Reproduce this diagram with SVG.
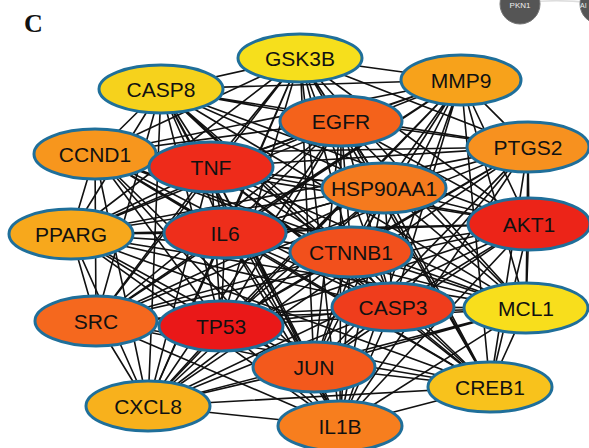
<svg xmlns="http://www.w3.org/2000/svg" width="589" height="448" viewBox="0 0 589 448">
<style>
.n ellipse{stroke:#1f6f9a;stroke-width:3}
.n text{font-family:"Liberation Sans",Arial,sans-serif;font-size:21px;fill:#111;text-anchor:middle}
#edges path{stroke:#111;stroke-width:1.6;fill:none}
</style>
<rect width="589" height="448" fill="#fff"/>
<text x="24" y="32" font-family="Liberation Serif,serif" font-weight="bold" font-size="26" fill="#111">C</text>
<g id="corner">
<path d="M520 3 Q560 -2 600 4" stroke="#ddd" stroke-width="1.5" fill="none"/>
<circle cx="520" cy="4" r="20" fill="#555" stroke="#777" stroke-width="1"/>
<text x="520" y="8" font-family="Liberation Sans,sans-serif" font-size="8" fill="#eee" text-anchor="middle">PKN1</text>
<circle cx="600" cy="4" r="20" fill="#555" stroke="#777" stroke-width="1"/>
<text x="580" y="8" font-family="Liberation Sans,sans-serif" font-size="7" fill="#eee">AI</text>
</g>
<g id="edges">
<path d="M300 58L161 89M300 58L461 80M300 58L341 121M300 58L95 154M300 58L211 167M300 58L528 147M300 58L384 188M300 58L71 234M300 58L225 233M300 58L529 224M300 58L351 252M300 58L96 321M300 58L221 326M300 58L393 307M300 58L526 308M300 58L314 367M300 58L490 387M300 58L148 406M300 58L340 426"/>
<path d="M161 89L461 80M161 89L341 121M161 89L95 154M161 89L211 167M161 89L528 147M161 89L384 188M161 89L71 234M161 89L225 233M161 89L529 224M161 89L351 252M161 89L96 321M161 89L221 326M161 89L393 307M161 89L526 308M161 89L314 367M161 89L490 387M161 89L148 406M161 89L340 426"/>
<path d="M461 80L341 121M461 80L95 154M461 80L211 167M461 80L528 147M461 80L384 188M461 80L71 234M461 80L225 233M461 80L529 224M461 80L351 252M461 80L96 321M461 80L221 326M461 80L393 307M461 80L526 308M461 80L314 367M461 80L490 387M461 80L148 406M461 80L340 426"/>
<path d="M341 121L95 154M341 121L211 167M341 121L528 147M341 121L384 188M341 121L71 234M341 121L225 233M341 121L529 224M341 121L351 252M341 121L96 321M341 121L221 326M341 121L393 307M341 121L526 308M341 121L314 367M341 121L490 387M341 121L148 406M341 121L340 426"/>
<path d="M95 154L211 167M95 154L528 147M95 154L384 188M95 154L71 234M95 154L225 233M95 154L529 224M95 154L351 252M95 154L96 321M95 154L221 326M95 154L393 307M95 154L526 308M95 154L314 367M95 154L490 387M95 154L148 406M95 154L340 426"/>
<path d="M211 167L528 147M211 167L384 188M211 167L71 234M211 167L225 233M211 167L529 224M211 167L351 252M211 167L96 321M211 167L221 326M211 167L393 307M211 167L526 308M211 167L314 367M211 167L490 387M211 167L148 406M211 167L340 426"/>
<path d="M528 147L384 188M528 147L71 234M528 147L225 233M528 147L529 224M528 147L351 252M528 147L96 321M528 147L221 326M528 147L393 307M528 147L526 308M528 147L314 367M528 147L490 387M528 147L148 406M528 147L340 426"/>
<path d="M384 188L71 234M384 188L225 233M384 188L529 224M384 188L351 252M384 188L96 321M384 188L221 326M384 188L393 307M384 188L526 308M384 188L314 367M384 188L490 387M384 188L148 406M384 188L340 426"/>
<path d="M71 234L225 233M71 234L529 224M71 234L351 252M71 234L96 321M71 234L221 326M71 234L393 307M71 234L526 308M71 234L314 367M71 234L490 387M71 234L148 406M71 234L340 426"/>
<path d="M225 233L529 224M225 233L351 252M225 233L96 321M225 233L221 326M225 233L393 307M225 233L526 308M225 233L314 367M225 233L490 387M225 233L148 406M225 233L340 426"/>
<path d="M529 224L351 252M529 224L96 321M529 224L221 326M529 224L393 307M529 224L526 308M529 224L314 367M529 224L490 387M529 224L148 406M529 224L340 426"/>
<path d="M351 252L96 321M351 252L221 326M351 252L393 307M351 252L526 308M351 252L314 367M351 252L490 387M351 252L148 406M351 252L340 426"/>
<path d="M96 321L221 326M96 321L393 307M96 321L526 308M96 321L314 367M96 321L490 387M96 321L148 406M96 321L340 426"/>
<path d="M221 326L393 307M221 326L526 308M221 326L314 367M221 326L490 387M221 326L148 406M221 326L340 426"/>
<path d="M393 307L526 308M393 307L314 367M393 307L490 387M393 307L148 406M393 307L340 426"/>
<path d="M526 308L314 367M526 308L490 387M526 308L148 406M526 308L340 426"/>
<path d="M314 367L490 387M314 367L148 406M314 367L340 426M490 387L148 406M490 387L340 426M148 406L340 426"/>
</g>
<g id="GSK3B" class="n"><ellipse cx="300" cy="58" rx="62" ry="24" fill="#f6df1c"/><text x="300" y="66">GSK3B</text></g>
<g id="CASP8" class="n"><ellipse cx="161" cy="89" rx="62" ry="24" fill="#f6d21c"/><text x="161" y="97">CASP8</text></g>
<g id="MMP9" class="n"><ellipse cx="461" cy="80" rx="60" ry="25" fill="#f7a21b"/><text x="461" y="88">MMP9</text></g>
<g id="EGFR" class="n"><ellipse cx="341" cy="121" rx="61" ry="25" fill="#f4621b"/><text x="341" y="129">EGFR</text></g>
<g id="CCND1" class="n"><ellipse cx="95" cy="154" rx="61" ry="25" fill="#f7961d"/><text x="95" y="162">CCND1</text></g>
<g id="TNF" class="n"><ellipse cx="211" cy="167" rx="62" ry="25" fill="#ee2b1a"/><text x="211" y="175">TNF</text></g>
<g id="PTGS2" class="n"><ellipse cx="528" cy="147" rx="61" ry="25" fill="#f7911f"/><text x="528" y="155">PTGS2</text></g>
<g id="HSP90AA1" class="n"><ellipse cx="384" cy="188" rx="62" ry="25" fill="#f57a1e"/><text x="384" y="196">HSP90AA1</text></g>
<g id="PPARG" class="n"><ellipse cx="71" cy="234" rx="62" ry="25" fill="#f7a81c"/><text x="71" y="242">PPARG</text></g>
<g id="IL6" class="n"><ellipse cx="225" cy="233" rx="61" ry="25" fill="#ee2e1b"/><text x="225" y="241">IL6</text></g>
<g id="AKT1" class="n"><ellipse cx="529" cy="224" rx="61" ry="26" fill="#ec2418"/><text x="529" y="232">AKT1</text></g>
<g id="CTNNB1" class="n"><ellipse cx="351" cy="252" rx="61" ry="25" fill="#f2501c"/><text x="351" y="260">CTNNB1</text></g>
<g id="SRC" class="n"><ellipse cx="96" cy="321" rx="61" ry="25" fill="#f5681e"/><text x="96" y="329">SRC</text></g>
<g id="TP53" class="n"><ellipse cx="221" cy="326" rx="62" ry="25" fill="#ea1818"/><text x="221" y="334">TP53</text></g>
<g id="CASP3" class="n"><ellipse cx="393" cy="307" rx="61" ry="24" fill="#ef3d1c"/><text x="393" y="315">CASP3</text></g>
<g id="MCL1" class="n"><ellipse cx="526" cy="308" rx="62" ry="25" fill="#f8de1c"/><text x="526" y="316">MCL1</text></g>
<g id="JUN" class="n"><ellipse cx="314" cy="367" rx="61" ry="25" fill="#f3591c"/><text x="314" y="375">JUN</text></g>
<g id="CREB1" class="n"><ellipse cx="490" cy="387" rx="62" ry="25" fill="#f8c21c"/><text x="490" y="395">CREB1</text></g>
<g id="CXCL8" class="n"><ellipse cx="148" cy="406" rx="62" ry="25" fill="#f8b11c"/><text x="148" y="414">CXCL8</text></g>
<g id="IL1B" class="n"><ellipse cx="340" cy="426" rx="62" ry="25" fill="#f77e1e"/><text x="340" y="434">IL1B</text></g>
</svg>
